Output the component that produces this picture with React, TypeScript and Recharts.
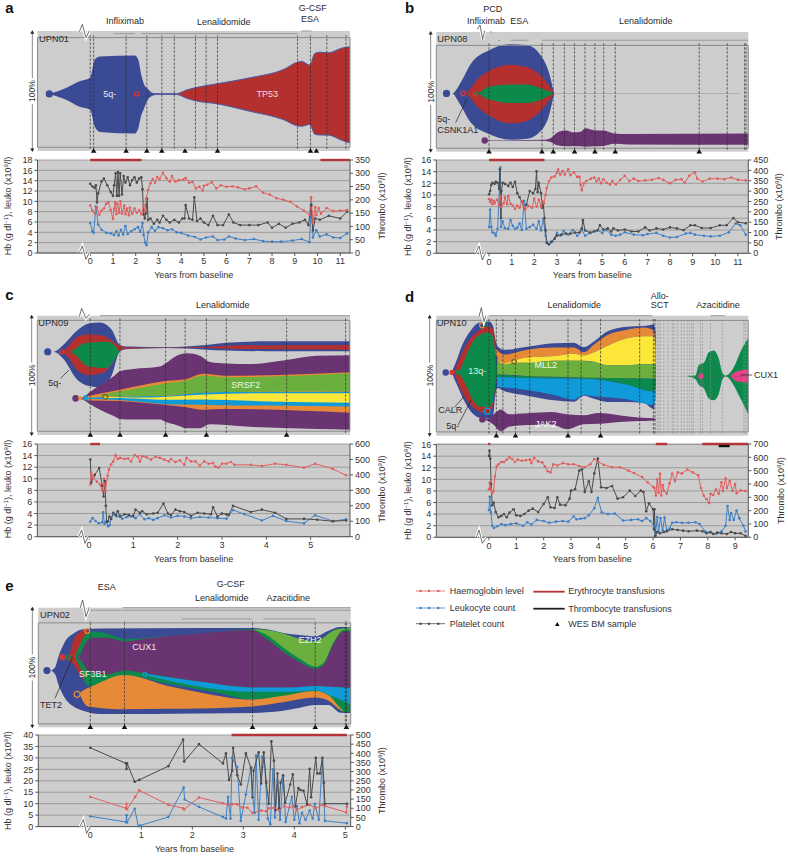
import React from "react";
import { ComposedChart, Area, Line, XAxis, YAxis, CartesianGrid } from "recharts";

const FONT = "'Liberation Sans', Arial, sans-serif";
const BLUE = "#3b4a94", RED = "#b3302f", GREEN = "#0c8a4b", PURPLE = "#6a3472", ORANGE = "#e78a38",
  LIME = "#6bb03f", YELLOW = "#fde63a", CYAN = "#0f9bd9", PINK = "#e6408a", GRAY = "#cdcdcd";
const C_HB = "#df5f5e", C_LEU = "#3f7fc4", C_PLT = "#4a4a4a", C_TX = "#b5343a";

// ---- Panel a, UPN01 ----
const a5q = [[-1.8,48.6,48.6],[-1.04,54.2,43],[-.53,59.7,37.5],[0,63.3,34.2],[.2,80,18.9],[.43,82.8,13.9],[1.96,83.6,12.5],[2.11,80,16.9],[2.26,64.7,30],[2.36,58,35],[2.55,53,43.9],[2.77,49.4,47.2],[3.07,48.7,48.4],[3.8,48.6,48.3]];
const aTP53 = [[2.77,48.7,48.4],[3.8,48.9,48.1],[4.24,52.2,44.7],[4.6,54.2,42.5],[5.56,57.8,39.7],[7.02,63.3,32.8],[8.49,70.8,25.3],[9.15,77.8,19.4],[9.3,78.3,19.2],[9.66,75,20.8],[9.88,85.6,11.9],[10.1,86.7,11.2],[10.47,86.1,11.1],[11.06,90.3,6.4],[11.35,91.4,4.4],[11.43,91.4,4.2]];
const aDashes = [0,.15,1.58,2.49,3.15,3.7,4.63,5.1,5.6,9.12,9.69,10.41,11.25];
const aSamples = [.15,1.58,2.49,3.15,4.17,5.6,9.69,9.95];
const aHb = [[0,9.2],[.1,8.2],[.2,7.7],[.3,8.8],[.4,7.4],[.5,8.2],[.6,8.6],[.7,9.5],[.8,9.8],[.9,8.3],[1,6.6],[1.05,8.5],[1.1,9.8],[1.15,7.5],[1.2,9.5],[1.27,7.8],[1.33,10],[1.4,7.6],[1.5,9.2],[1.55,7.5],[1.62,8.6],[1.7,7.3],[1.75,8.8],[1.85,7.6],[1.95,8.6],[2.05,7.8],[2.15,8.3],[2.25,7.5],[2.35,9.3],[2.4,8],[2.46,10.5],[2.55,12.2],[2.65,13.5],[2.75,14.3],[2.85,13.6],[2.95,14.7],[3.05,14.3],[3.2,15.5],[3.35,14.5],[3.5,13.8],[3.6,14.9],[3.75,13.8],[3.9,14.1],[4.1,14.2],[4.2,14.5],[4.35,13.6],[4.5,13.8],[4.65,12.5],[4.8,12.8],[4.95,12.1],[5,13],[5.15,13.2],[5.35,13.7],[5.55,12.5],[5.75,13.1],[6,12.8],[6.25,12.9],[6.5,12.7],[6.8,12.3],[7,12.5],[7.3,12.9],[7.6,11.7],[7.9,11.3],[8.2,10.6],[8.5,10.3],[8.8,9.9],[9.1,9],[9.4,8.2],[9.65,7.4],[9.72,10.8],[9.8,5.8],[9.9,8.9],[9.95,7.3],[10.05,8.7],[10.15,7.6],[10.4,8.7],[10.7,8.1],[11,8.2],[11.3,8.3]];
const aLeu = [[0,5.8],[.1,4.2],[.15,3.9],[.25,9],[.35,5.5],[.5,4.5],[.7,3.9],[.9,3.8],[1.05,3.5],[1.15,4.2],[1.25,3.4],[1.35,4.5],[1.45,3.6],[1.55,5.2],[1.65,3.7],[1.8,4.2],[1.95,4.6],[2.1,5],[2.2,4.1],[2.3,5.8],[2.35,3.5],[2.42,2],[2.48,1.5],[2.55,4],[2.7,5],[2.85,4.3],[3,5],[3.2,4.8],[3.4,4.4],[3.6,4.6],[3.8,4],[4,3.9],[4.3,3.4],[4.6,3.1],[4.85,2.6],[5.1,3],[5.4,3.2],[5.6,2.5],[5.9,2.6],[6.1,3.2],[6.4,2.8],[6.8,2.5],[7.2,2.7],[7.6,2.3],[8,2.2],[8.4,2.2],[8.9,2.4],[9.3,2.7],[9.65,2.1],[9.72,9.5],[9.8,3],[9.95,4.4],[10.1,3.2],[10.4,3.6],[10.7,3],[11,2.9],[11.3,3.8]];
const aPlt = [[0,260],[.1,250],[.2,245],[.25,255],[.3,190],[.35,225],[.5,270],[.6,280],[.75,255],[.9,230],[1,215],[1.05,255],[1.12,300],[1.17,215],[1.22,305],[1.27,215],[1.32,300],[1.4,220],[1.47,290],[1.55,265],[1.65,285],[1.75,255],[1.85,275],[1.95,285],[2.05,265],[2.15,280],[2.25,285],[2.3,240],[2.35,145],[2.4,130],[2.45,150],[2.5,205],[2.55,125],[2.65,130],[2.8,110],[2.95,125],[3.05,115],[3.2,140],[3.35,125],[3.5,115],[3.7,125],[3.9,115],[4.05,130],[4.15,130],[4.2,180],[4.35,130],[4.5,125],[4.58,210],[4.7,120],[4.85,130],[5,115],[5.2,105],[5.4,140],[5.6,105],[5.85,105],[6.1,145],[6.3,115],[6.6,105],[7,105],[7.4,105],[7.8,115],[8,95],[8.3,110],[8.6,95],[8.9,110],[9.2,115],[9.45,125],[9.6,105],[9.72,180],[9.8,85],[9.9,130],[10.1,125],[10.5,140],[11,130],[11.3,155]];

// ---- Panel b, UPN08 ----
const bBlue = [[-1.88,53.3,53.3],[-1.62,53.3,53.3],[-1.4,58.3,47.2],[-1.18,66.7,38.9],[-.81,81.9,25],[0,95.3,13.9],[.96,101,8.3],[1.69,100,9.2],[2.28,90.3,16.7],[2.65,73.6,31.9],[2.87,53.6,53]];
const bRed = [[-1.03,53.3,53.3],[-.81,58.3,48.6],[-.52,66.7,40.3],[0,75,31.9],[.96,81.1,24.2],[1.69,78.6,26.7],[2.28,70.8,36.1],[2.65,61.1,45.8],[2.87,53.6,53]];
const bGreen = [[-.44,53.3,53.3],[-.22,57.5,49.4],[0,59.7,47.5],[.96,61.9,43.9],[1.69,61.9,43.9],[2.28,58.3,47.2],[2.87,53.5,53.1]];
const bTrace = [[2.87,53.5,53.1],[11.1,53.5,53.1]];
const bPurple = [[-.19,7.7,7.3],[2.36,8.1,7.2],[2.72,9.7,6.1],[3.02,15.3,2.8],[3.39,17.2,1.9],[3.76,15.3,2.2],[4.05,16.1,1.8],[4.27,19.4,1.4],[4.64,17.5,1.8],[5.08,17.2,2.2],[5.52,14.4,4.2],[6.11,13.9,3.6],[11.46,14.4,3.3]];
const bDashes = [0,2.34,2.84,3.33,3.78,4.24,4.68,5.07,5.58,9.29,10.53,11.3,11.36];
const bSamples = [0,2.34,2.84,3.78,4.68,5.58,9.29];
const bHb = [[0,9.3],[.05,8.8],[.1,9.2],[.15,8.4],[.2,9],[.25,8.6],[.35,9.2],[.45,8.2],[.5,9.8],[.55,8],[.65,8.6],[.7,9.6],[.8,8.4],[.85,9.8],[.95,8.5],[1.05,8.2],[1.15,7.6],[1.25,8.2],[1.35,7.8],[1.45,8.9],[1.55,7.9],[1.6,7.5],[1.75,8.1],[1.9,7.8],[2,9.4],[2.1,8],[2.2,9.2],[2.3,8],[2.35,9],[2.42,8.6],[2.5,10],[2.55,11.2],[2.65,12.4],[2.75,13],[2.9,13.2],[3,13.8],[3.05,14.4],[3.15,13.5],[3.25,14.1],[3.35,13.5],[3.5,14.4],[3.6,13.4],[3.75,13.9],[3.9,13.1],[4,13.1],[4.05,11.7],[4.1,10.8],[4.2,12],[4.3,12.4],[4.5,12.8],[4.65,13],[4.75,12.3],[4.85,12.8],[4.95,12],[5.05,12.7],[5.2,12.1],[5.35,11.8],[5.45,12.4],[5.6,11.8],[5.8,12.6],[6,13.3],[6.2,12.4],[6.4,12.8],[6.6,12.4],[6.9,12.5],[7.2,12.6],[7.5,12.9],[7.7,12.6],[8,12],[8.25,12.6],[8.5,12.7],[8.65,12.1],[8.85,13.3],[9.1,13.9],[9.2,12.8],[9.45,12.3],[9.75,12.8],[10.1,12.8],[10.4,12.7],[10.7,13],[11,12.6],[11.35,12.5]];
const bLeu = [[0,4.5],[.05,7.5],[.1,4.5],[.15,3.6],[.25,3.4],[.3,3],[.38,4.2],[.5,14.7],[.53,4.5],[.6,5.5],[.7,4.3],[.85,4.2],[.95,5.7],[1.05,4.7],[1.15,4.2],[1.25,4.4],[1.35,5.1],[1.45,4],[1.55,9],[1.65,4.2],[1.8,4.5],[1.95,4.9],[2.1,4.2],[2.2,5.5],[2.3,3.9],[2.4,5.8],[2.5,3],[2.55,2],[2.65,1.5],[2.8,2],[3,3.5],[3.15,3],[3.3,3.8],[3.5,3.2],[3.7,4],[3.9,3],[4.1,4],[4.25,3],[4.5,3.5],[4.8,4],[5,3.5],[5.2,4],[5.4,3.2],[5.6,3],[5.8,3.2],[6,3.6],[6.4,3.2],[6.8,3.1],[7,3.3],[7.4,3.5],[7.7,3],[8,2.7],[8.3,2.8],[8.7,3.4],[8.9,3.5],[9.1,3.2],[9.5,3],[9.8,2.9],[10.2,3],[10.6,3.6],[10.9,5.1],[11.1,4.8],[11.35,3.2]];
const bPlt = [[0,285],[.05,300],[.1,330],[.15,340],[.25,335],[.3,345],[.38,340],[.45,310],[.48,405],[.5,230],[.53,170],[.55,300],[.6,340],[.7,335],[.85,325],[.95,340],[1.05,320],[1.15,345],[1.25,290],[1.35,270],[1.45,250],[1.55,220],[1.65,235],[1.8,300],[1.95,290],[2.05,310],[2.1,395],[2.15,295],[2.2,340],[2.3,290],[2.35,220],[2.4,240],[2.45,170],[2.5,110],[2.55,50],[2.65,45],[2.75,55],[2.9,70],[3,85],[3.2,90],[3.4,95],[3.6,95],[3.8,100],[4,100],[4.1,120],[4.15,160],[4.25,110],[4.45,100],[4.65,105],[4.8,110],[4.9,135],[5.05,115],[5.25,120],[5.4,105],[5.5,120],[5.7,110],[6,115],[6.3,105],[6.6,105],[6.9,125],[7.1,110],[7.4,120],[7.7,115],[8,125],[8.3,120],[8.6,112],[8.9,135],[9.1,135],[9.4,122],[9.8,122],[10.2,135],[10.5,135],[10.8,170],[11,150],[11.35,145]];

// ---- Panel c, UPN09 ----
const cBlue = [[-.93,71.7,71.7],[-.8,71.7,71.7],[-.58,77.8,65.3],[-.28,90.3,47.2],[0,97.2,40.8],[.25,98,39.7],[.51,91.7,50],[.7,77.8,72.2],[.89,76.4,74.2],[1.75,75.8,75],[2.65,77.8,73.6],[3.1,79.7,72.8],[4,81.1,72.2],[5.89,81.1,72.2]];
const cRed = [[-.62,71.7,71.7],[-.47,76.4,66.7],[-.28,84.7,55.6],[0,87.5,50.6],[.32,86.1,52.8],[.55,80.6,62.5],[.7,77.2,73.3],[.89,75.6,74.4],[1.75,75.3,75],[2.65,76.1,75],[3.1,77.2,74.4],[5.89,77.8,73.6]];
const cGreen = [[-.35,71.7,71.7],[-.24,76.4,66.1],[0,80,58.3],[.4,80.6,56.9],[.59,77.2,65.3],[.68,72,71.1]];
const cPurple = [[-.3,29.7,29.5],[-.13,30.6,28.3],[0,34.7,25],[.25,41.7,19.4],[.55,49.4,13.9],[.7,54.2,11.1],[1,56.1,10.6],[1.6,58.3,10.6],[1.75,61.7,8],[1.98,68.1,5.5],[2.2,70.3,2.8],[2.5,68.1,2.8],[2.73,62.5,6.4],[3.1,61.1,5.6],[3.63,60.6,4],[4.38,63.9,3],[5.14,68.1,2],[5.89,68.6,1.4]];
const cOrange = [[-.16,30.6,30],[0,31.9,27.8],[.7,37.5,27.2],[1.73,45.3,23.6],[2.2,47.2,21.7],[2.57,51.9,19.4],[3.1,50,20],[5.89,53.3,16.7]];
const cLime = [[.25,32.8,32],[.7,36.1,31.4],[1.73,43.1,31.9],[2.2,45.8,33.9],[2.57,50,34.5],[3.1,48.6,35.3],[5.89,52.2,36.1]];
const cCyan = [[-.13,30,29],[.7,31.1,28.1],[1.73,31.7,24.4],[2.2,33.6,24],[3.26,35.3,23.3],[4.1,35.3,23.3],[5.89,35.6,22.2]];
const cYellow = [[.32,30.8,30.3],[.7,30.6,30],[1.38,30.4,28.9],[1.73,31.1,28.3],[2.5,33,28.6],[4,34.2,26.9],[5.89,34.2,25.6]];
const cDashes = [.03,.7,1.73,2.17,2.65,3.1,4.46,5.79];
const cSamples = [.03,.7,1.73,2.65,4.46];
const cHb = [[.03,9],[.05,11.1],[.1,10.2],[.18,9.5],[.25,9],[.3,8],[.34,10],[.37,7.8],[.42,10.5],[.45,11.6],[.5,12.5],[.55,13],[.6,14.1],[.65,13.4],[.7,13.6],[.8,13.4],[.88,13.5],[.95,13],[1.03,14.1],[1.1,13.8],[1.15,13],[1.2,13.9],[1.3,13.7],[1.4,13.3],[1.5,13.8],[1.6,13.6],[1.7,13.3],[1.8,13],[1.85,13.4],[1.95,12.9],[2.05,13.2],[2.15,12.4],[2.2,13.6],[2.3,13],[2.4,13],[2.5,12.3],[2.6,13],[2.7,12.6],[2.8,12.7],[2.85,12.1],[2.92,11.9],[3,12.6],[3.1,12.6],[3.2,12.9],[3.28,12.4],[3.65,12.4],[3.9,12.2],[4.2,12.6],[4.45,12.4],[4.85,11.9],[5.1,12.6],[5.5,11.7],[5.8,10.6]];
const cLeu = [[.03,2.6],[.08,3.2],[.15,2.7],[.22,2.3],[.3,2.5],[.32,4.2],[.35,2.2],[.4,2.7],[.43,1.8],[.47,2],[.5,3.3],[.55,3.9],[.62,3.5],[.7,3.7],[.75,3.1],[.85,3.4],[.95,3.5],[1.05,3.2],[1.15,3.9],[1.25,3],[1.35,3.2],[1.45,2.9],[1.55,3.2],[1.7,3.7],[1.85,3.3],[2,3.6],[2.15,3.5],[2.3,3.2],[2.5,3.4],[2.7,3.3],[2.9,3.2],[3.1,3.1],[3.25,4.6],[3.5,3.9],[3.9,2.8],[4.15,3.6],[4.45,2.7],[4.85,2.3],[5.1,3.7],[5.5,2.7],[5.8,3]];
const cPlt = [[.03,500],[.05,350],[.13,400],[.23,445],[.3,330],[.33,260],[.36,360],[.38,200],[.4,95],[.43,100],[.46,130],[.5,115],[.55,155],[.6,140],[.65,165],[.7,130],[.8,145],[.9,140],[1,135],[1.05,175],[1.15,155],[1.2,165],[1.3,145],[1.45,150],[1.55,155],[1.68,215],[1.78,150],[1.85,140],[1.95,175],[2.05,165],[2.15,160],[2.3,135],[2.45,155],[2.6,150],[2.75,145],[2.8,190],[2.9,130],[3,150],[3.1,145],[3.15,140],[3.25,200],[3.65,160],[3.9,175],[4.2,155],[4.45,115],[4.85,115],[5.15,110],[5.5,100],[5.8,105]];

// ---- Panel d, UPN10 ----
const dBlue = [[-1.58,53.3,53.3],[-1.4,53.3,53.3],[-1.22,61.7,45],[-.97,78.3,31.1],[-.67,90.8,18.6],[-.37,97.8,13],[0,99,11.7],[.15,95,14],[.22,85,30],[.3,77.2,39.4],[.55,73.6,36.7],[1.4,76.4,32.5],[2.38,79.4,28.3],[3.1,80,27],[3.47,76.1,32.5],[3.84,81.1,29.7],[4.32,90,26.9],[5.05,94.4,26.9],[5.66,95,26],[6.03,96.4,20.6],[6.09,90,42]];
const dRed = [[-1.28,53.3,53.3],[-.97,71.4,35.3],[-.67,83.9,24.2],[-.37,90.8,18.6],[0,94.7,16.4],[.15,91.5,24.2],[.25,78,50]];
const dGreen = [[-1.1,53.3,53.3],[-.85,67.2,42.2],[-.61,79.7,29.4],[-.37,86.7,22.8],[0,89.4,22.2],[.16,83.9,28.3],[.28,58.9,47.2],[.43,51.5,49.2],[1.4,50,48.3],[3.84,48.6,47.2],[5.05,48.2,42.2],[6.03,47.8,36.1],[6.09,47.8,40]];
const dOrange = [[.24,74.7,70],[.55,69.4,60],[1.4,73.6,66.7],[2.38,75.6,68],[3.1,75.6,70],[3.47,71.4,68.6],[3.84,78.3,71.4],[4.32,86.7,77],[5.05,91.7,83.9],[5.66,93.6,85.8],[6.03,91,85.8],[6.09,70,68]];
const dYellow = [[.3,66,65],[.55,61.1,60.4],[.91,63.9,61.9],[1.4,66.7,61.9],[2.38,68,63.9],[3.1,70,63.9],[3.47,68.6,63.9],[3.84,71.4,62.9],[4.32,77,59.7],[5.05,83.9,59.7],[5.66,85.8,60.6],[6.03,85.8,60.6],[6.09,75,60]];
const dLime = [[.3,65.3,51.9],[.55,60.4,51.5],[.91,61.9,51],[1.4,61.9,50],[2.38,63.9,49.5],[3.1,63.9,49],[3.84,62.9,48.6],[4.32,59.7,48.4],[5.05,59.7,48.2],[5.66,60.6,48],[6.03,60.6,47.8],[6.09,58,48]];
const dCyan = [[.3,49.2,40.3],[1.4,48.3,37.5],[2.38,47.9,33],[3.1,47.7,28.9],[3.47,47.5,33],[3.84,47.2,31.9],[5.05,42.2,29.2],[6.03,36.1,24.2],[6.09,40,30]];
const dJak2 = [[-.24,11.2,11.2],[0,11.7,9.4],[.18,15.8,6.1],[.43,20,.6],[.73,15.8,4.7],[1.4,16.7,6.1],[2.28,17.8,6.7],[2.86,15.8,2.5],[3.47,15,6.9],[4.03,17,7.2],[4.75,15,8.9],[5.46,13,9.7],[6.03,12.2,10.3],[6.09,11.8,10.8]];
const dTrace = [[6.09,50.2,49.8],[7.25,50.2,49.8]];
const dRelapse = [[7.25,50.3,49.8],[7.55,50.5,47.2],[7.67,60,42.2],[7.86,61.9,38.9],[8.04,71.6,29.7],[8.22,73,28.3],[8.4,65.9,33.9],[8.53,53.3,46.7],[8.65,50.5,50],[8.71,51,49.4],[8.95,58,41.7],[9.2,72.2,29.7],[9.48,84.4,15.8]];
const dCux1 = [[8.83,50.3,49.8],[9.07,54.4,45.3],[9.48,56,44.4]];
const dStem = [[7.25,50.15,49.85],[9.48,50.15,49.85]];
const dDashes = [0,.27,.51,.97,1.49,2.89,3.37,4.08,5.51,6.01,6.07];
const dLateDashes = [6.15,6.21,6.27,6.39,6.54,6.7,6.76,6.88,7.03,7.13,7.25,7.33,7.41,7.47,7.73,7.8,8.1,8.53,9.32,9.38];
const dSamples = [.27,.97,2.89,4.08];
const dHb = [[0,8.3],[.03,9.5],[.07,8.2],[.12,7.6],[.17,8],[.22,10.5],[.28,12.3],[.35,12.6],[.45,13],[.55,13],[.65,13.4],[.75,13.8],[.85,13.5],[.95,13],[1.05,13.4],[1.2,13.2],[1.35,13.3],[1.5,13.4],[1.55,12.8],[1.65,13.7],[1.8,13.1],[1.95,12.9],[2.05,12.2],[2.15,11.4],[2.25,11.2],[2.35,12.6],[2.5,12.4],[2.7,12.8],[2.9,12.6],[3.1,12.6],[3.3,12.3],[3.5,12.1],[3.7,12.6],[3.85,13.5],[4,13],[4.2,12.5],[4.5,12.1],[4.8,12.1],[5.1,11.5],[5.3,11.1],[5.6,10.4],[5.8,9.5],[6,8.7],[6.05,8.5],[6.1,7.2],[6.15,10],[6.2,7.7],[6.25,11],[6.3,7.2],[6.35,9],[6.4,8],[6.5,7.5],[6.6,9.3],[6.7,11],[6.8,9.7],[6.9,11.2],[7.05,11],[7.25,11.7],[7.45,11.2],[7.65,10.7],[7.75,8.5],[7.85,7.2],[7.95,6.6],[8.05,5.9],[8.1,7.5],[8.2,7.3],[8.3,8.3],[8.4,7.5],[8.5,9.5],[8.55,8],[8.65,10.2],[8.7,8.5],[8.8,9.7],[8.9,8],[9,9.2],[9.05,7.6],[9.2,8.1],[9.38,8]];
const dLeu = [[0,4.7],[.03,7],[.07,4.3],[.12,2],[.18,1.6],[.3,1.9],[.45,2.3],[.6,2.1],[.8,2.3],[1,2.4],[1.25,2],[1.4,2.6],[1.55,2.2],[1.75,3],[2,2.8],[2.2,2.5],[2.45,2.7],[2.7,2.8],[2.9,2.7],[3.1,3.6],[3.2,3.1],[3.35,3.2],[3.5,3.3],[3.65,3.8],[3.85,5],[3.98,6.8],[4.12,4.3],[4.35,4],[4.6,4.1],[4.9,2.9],[5.2,3],[5.45,3.1],[5.6,2.8],[5.75,3.3],[5.9,2.8],[6.03,2],[6.08,.3],[6.15,3.5],[6.2,1],[6.27,3.3],[6.35,1.2],[6.42,3.4],[6.5,1.2],[6.6,1.5],[6.7,2.5],[6.85,2.6],[7.05,2.5],[7.3,2.5],[7.55,2.6],[7.7,2.3],[7.9,1],[8.1,.8],[8.3,.6],[8.5,1],[8.65,2],[8.72,5.4],[8.8,3],[8.85,4.2],[8.95,3],[9.05,4.6],[9.15,3.3],[9.3,2],[9.38,1]];
const dPlt = [[0,610],[.02,650],[.05,590],[.08,400],[.12,240],[.17,260],[.25,190],[.35,150],[.45,160],[.55,175],[.65,150],[.75,185],[.9,210],[1,165],[1.15,160],[1.3,175],[1.45,200],[1.6,215],[1.8,190],[2,250],[2.15,300],[2.25,225],[2.4,220],[2.5,300],[2.6,245],[2.8,240],[2.95,290],[3,350],[3.15,360],[3.3,500],[3.4,510],[3.5,340],[3.65,420],[3.75,340],[3.85,480],[3.98,590],[4.1,375],[4.3,370],[4.5,385],[4.7,290],[4.9,300],[5.15,350],[5.35,310],[5.55,350],[5.65,340],[5.75,195],[5.85,255],[6,210],[6.03,60],[6.05,210],[6.08,10],[6.15,40],[6.25,30],[6.4,40],[6.5,45],[6.7,60],[6.9,55],[7.1,50],[7.3,45],[7.6,50],[7.8,45],[7.95,30],[8.1,40],[8.2,25],[8.35,35],[8.5,30],[8.7,25],[8.85,40],[9,30],[9.2,30],[9.38,10]];

// ---- Panel e, UPN02 ----
const eBlue = [[-.85,52.8,52.8],[-.79,52.8,52.8],[-.69,56.1,49],[-.63,65.8,39.4],[-.5,81.1,25.6],[-.33,89.4,17.2],[-.14,93.6,13],[.19,94.4,9.7],[2.15,95,10.3],[3.2,95,10.8],[3.46,93.6,11.5],[3.78,90,13],[4.11,88,16],[4.41,86.7,18.6],[4.67,92.2,18.6],[4.9,95.8,11.1],[5.1,95.5,10.8]];
const eRed = [[-.55,66,65.5],[-.43,66.5,63],[-.33,83,58.9],[-.17,92,46],[-.04,94,42]];
const eGreen = [[-.3,66.7,64.4],[-.2,78.9,56.1],[-.07,89.4,38.3],[.06,91.7,37.2],[.32,89.4,43],[.68,84,48],[1.5,86.7,40],[2.48,90.8,31],[3.16,93.6,24],[3.46,93,25],[4.11,83.9,28],[4.41,81.7,30.5],[4.57,85.6,28],[4.76,92.5,20.5],[4.96,94.7,11.7],[5.1,95.3,11.7]];
const eOrange = [[-.2,31.1,28.3],[-.07,35,17.8],[.03,37.2,16.7],[.67,48.3,14.4],[1.5,37.8,15],[2.15,31.1,15.3],[3.16,24,17.2],[3.78,27.8,21.4],[4.41,32.5,26.1],[4.67,28.3,23],[4.9,15.8,13.9],[4.96,13,12.6]];
const ePurple = [[-.2,66.7,64.4],[-.06,82.5,53.3],[.06,85.3,50],[.32,85.3,49],[.68,81.6,52.8],[1.07,84.2,50],[2.15,89.4,41.7],[3.16,92.8,36.1],[3.46,83.9,35.8],[3.78,71.4,35.6],[4.11,61.1,36],[4.41,54.7,37.5],[4.57,58.3,37],[4.76,78.3,36.5],[4.96,91.4,36],[5.1,91.4,35.3]];
const eCyan = [[1.07,49.7,48.3],[2.15,41.7,36.7],[3.16,36.1,31.7],[3.92,36.1,31.7],[4.41,37.5,33.3],[4.76,36.5,27],[5.1,35.5,19.4]];
const eLime = [[3.2,93.6,93.3],[3.46,93,88],[3.78,89.4,75.6],[4.11,83.9,64.4],[4.41,81.7,56.7],[4.57,85.3,60.3],[4.76,92.2,79.7],[4.96,94.4,92.8],[5.1,95,93.6]];
const eDashes = [0,.67,3.18,4.41,5,5.02];
const eSamples = [0,.67,3.18,4.41,5.02];
const eHb = [[0,13],[.7,8],[.71,10],[.72,7.6],[.88,13],[.96,15.8],[1.53,9.5],[1.82,8],[1.84,7.5],[2.13,12.7],[2.6,10.2],[2.7,9.5],[2.78,9.8],[2.88,9.7],[2.98,8.3],[3.08,8.2],[3.18,6],[3.35,7],[3.45,6.7],[3.5,8],[3.6,8.2],[3.7,7],[3.8,9],[3.9,8.2],[3.98,9],[4.05,7.3],[4.15,8.5],[4.3,9.5],[4.42,8],[4.55,9.5],[4.6,9],[5.02,6.2],[5.03,8.7]];
const eLeu = [[0,4.5],[.7,2],[.71,5],[.72,1.8],[.87,7.8],[.94,.2],[.98,.5],[1.53,4.2],[1.83,17],[1.85,11.8],[2.13,8.6],[2.6,4.2],[2.66,3.5],[2.7,13],[2.75,3.5],[2.78,30],[2.88,26],[2.95,2.5],[3.05,14],[3.15,26],[3.18,14],[3.22,6],[3.25,31],[3.3,3],[3.37,30.5],[3.42,26],[3.48,3.5],[3.53,1],[3.58,25],[3.62,4],[3.67,20],[3.72,3],[3.78,22],[3.83,2],[3.95,13],[4,3],[4.05,9],[4.1,1.5],[4.15,6],[4.22,3],[4.3,7],[4.36,3.5],[4.4,10],[4.48,3],[4.55,29],[4.6,2.5],[5.03,1.5]];
const ePlt = [[0,430],[.7,345],[.71,315],[.72,345],[.87,245],[.96,255],[1.53,330],[1.82,475],[1.84,355],[2.13,450],[2.6,345],[2.66,400],[2.72,255],[2.78,305],[2.8,430],[2.88,280],[2.95,230],[3.05,400],[3.15,320],[3.18,160],[3.2,305],[3.3,405],[3.35,235],[3.4,405],[3.45,240],[3.5,125],[3.55,465],[3.6,360],[3.63,90],[3.67,290],[3.7,100],[3.73,240],[3.78,280],[3.82,130],[3.92,230],[3.97,285],[4.02,110],[4.08,210],[4.12,200],[4.18,195],[4.25,120],[4.3,315],[4.33,160],[4.42,375],[4.45,290],[4.5,290],[4.55,375],[4.58,240],[4.6,125],[5.03,125]];

const upTo = (n: number) => Array.from({ length: n + 1 }, (_, i) => i);
const rows = (r: number[][]) => r.map(([x, hi, lo]) => ({ x, range: [lo, hi] }));
const pts = (r: number[][]) => r.map(([x, y]) => ({ x, y }));

const PANELS: any[] = [
  { id: "a", ox: 0, oy: 0, rL: 37.5, rR: 350, fT: 31, fB: 151, lT: 160, lB: 253, xd: [-2.32, 11.43], xt: upTo(11),
    hbMax: 18, hbT: [0,2,4,6,8,10,12,14,16,18], pMax: 350, pT: [0,50,100,150,200,250,300,350],
    hb: aHb, leu: aLeu, plt: aPlt, dashes: aDashes, late: [], samples: aSamples,
    bands: [[a5q, BLUE], [aTP53, RED, "#4a5ca8"]],
    markers: [[-1.8,48.6,BLUE,3,1],[2.04,48.6,"#d8383a",2.2,0]],
    treat: [[1.03,1.96,103.6],[2.26,9.12,103.6],[9.3,9.74,106]],
    tx: [[0,2.26,18,C_TX],[10.13,11.43,18,C_TX]] },
  { id: "b", ox: 394, oy: 0, rL: 42.3, rR: 354.3, fT: 32, fB: 151.7, lT: 160, lB: 253.3, xd: [-2.33, 11.46], xt: upTo(11),
    hbMax: 16, hbT: [0,2,4,6,8,10,12,14,16], pMax: 450, pT: [0,50,100,150,200,250,300,350,400,450],
    hb: bHb, leu: bLeu, plt: bPlt, dashes: bDashes, late: [], samples: bSamples,
    bands: [[bBlue, BLUE], [bRed, RED], [bGreen, GREEN], [bTrace, "#8b4a6e"], [bPurple, PURPLE]],
    markers: [[-1.88,53.3,BLUE,3,1],[-1.15,53.3,"#d8383a",2.2,0],[-.6,53.3,"#d8383a",2,0],[-.55,53.3,GREEN,1.6,0],[-.19,7.5,PURPLE,2.6,1]],
    treat: [[.04,.13,113],[.4,.49,104.7],[.96,1.74,105],[2.33,11.46,105]],
    tx: [[0,2.45,16,C_TX]] },
  { id: "c", ox: 0, oy: 285, rL: 37.3, rR: 350, fT: 30.7, fB: 150, lT: 159, lB: 251.7, xd: [-1.165, 5.887], xt: upTo(5),
    hbMax: 16, hbT: [0,2,4,6,8,10,12,14,16], pMax: 600, pT: [0,100,200,300,400,500,600],
    hb: cHb, leu: cLeu, plt: cPlt, dashes: cDashes, late: [], samples: cSamples,
    bands: [[cBlue, BLUE], [cRed, RED], [cGreen, GREEN], [cPurple, PURPLE], [cOrange, ORANGE], [cLime, LIME], [cCyan, CYAN], [cYellow, YELLOW]],
    markers: [[-.93,71.7,BLUE,3,1],[-.62,71.7,"#d8383a",2,0],[-.35,71.7,GREEN,1.6,0],[-.3,29.7,PURPLE,2.8,1],[-.2,29.7,ORANGE,1.5,1],[-.08,30,CYAN,2,1],[.37,31,"#7a6a20",2.4,0]],
    treat: [[.25,5.89,104.2]],
    tx: [[.03,.25,16,C_TX]] },
  { id: "d", ox: 394, oy: 285, rL: 42.3, rR: 354.3, fT: 30.7, fB: 150.7, lT: 159, lB: 252.3, xd: [-1.924, 9.477], xt: upTo(9),
    hbMax: 16, hbT: [0,2,4,6,8,10,12,14,16], pMax: 700, pT: [0,100,200,300,400,500,600,700],
    hb: dHb, leu: dLeu, plt: dPlt, dashes: dDashes, late: dLateDashes, samples: dSamples,
    bands: [[dBlue, BLUE], [dRed, RED], [dGreen, GREEN], [dOrange, ORANGE], [dYellow, YELLOW], [dLime, LIME], [dCyan, CYAN], [dJak2, PURPLE], [dTrace, "#9aa59a"], [dRelapse, GREEN], [dCux1, PINK], [dStem, "#555"]],
    markers: [[-1.58,53.3,BLUE,2.6,1],[-1.35,53.3,"#d8383a",2,1],[-1.15,53.3,GREEN,1.6,1],[-.24,11.2,PURPLE,2.6,1],[-.25,95.6,ORANGE,2.5,0],[-.12,96.4,GREEN,2,0],[-.06,18.6,CYAN,3,0],[.92,63,"#7a6a20",2.2,0],[7.75,50,PINK,2,1]],
    treat: [[0,5.97,104.2],[8.1,8.62,104.2]],
    tx: [[-.03,.05,16.1,C_TX],[6.1,6.52,16.1,C_TX],[7.8,9.48,16.1,C_TX],[8.4,8.8,15.75,"#111"]] },
  { id: "e", ox: 0, oy: 570, rL: 38.3, rR: 350.7, fT: 37.7, fB: 157.3, lT: 164.7, lB: 256.3, xd: [-1.02, 5.105], xt: upTo(5),
    hbMax: 40, hbT: [0,5,10,15,20,25,30,35,40], pMax: 500, pT: [0,50,100,150,200,250,300,350,400,450,500],
    hb: eHb, leu: eLeu, plt: ePlt, dashes: eDashes, late: [], samples: eSamples,
    bands: [[eBlue, BLUE], [eRed, RED], [eGreen, GREEN], [eOrange, ORANGE], [ePurple, PURPLE], [eCyan, CYAN], [eLime, LIME]],
    markers: [[-.85,52.8,BLUE,3,1],[-.55,66,"#d8383a",2.4,1],[-.43,66,GREEN,2,0],[-.2,66,PURPLE,2,0],[-.26,29.2,ORANGE,3,0],[1.07,49,CYAN,2,0],[-.06,92,ORANGE,2.4,0]],
    treat: [[0,.61,112.5],[.63,5.1,115],[.63,5.1,112.5],[1.79,3.16,103.9],[3.39,4.41,103.9]],
    tx: [[2.77,5.03,40,C_TX]] },
];

const tri = (p: any) => (
  <path key={p.index} d={`M${p.cx} ${p.cy - 2.8}L${p.cx + 2.8} ${p.cy + 1.8}L${p.cx - 2.8} ${p.cy + 1.8}Z`} fill="#111" />
);

function Fish({ p }: { p: any }) {
  const W = 394;
  const frame = [[p.xd[0],0],[p.xd[1],0],[p.xd[1],100],[p.xd[0],100],[p.xd[0],0]];
  return (
    <div style={{ position: "absolute", left: p.ox, top: p.oy }}>
      <ComposedChart width={W} height={p.fB + 10} margin={{ top: p.fT, right: W - p.rR, bottom: 10, left: p.rL }}>
        <CartesianGrid fill={GRAY} horizontal={false} vertical={false} />
        <XAxis hide type="number" dataKey="x" domain={p.xd} />
        <YAxis hide type="number" domain={[0, 100]} />
        <Line data={pts(frame)} dataKey="y" stroke="#8a8a8a" strokeWidth={1} dot={false} activeDot={false} isAnimationActive={false} />
        {p.bands.map(([b, col, edge]: any, i: number) => (
          <Area key={"b" + i} data={rows(b)} dataKey="range" type="monotone" fill={col} fillOpacity={1}
            stroke={edge || "none"} strokeWidth={edge ? 1 : 0} dot={false} activeDot={false} isAnimationActive={false} />
        ))}
        {p.dashes.map((x: number, i: number) => (
          <Line key={"d" + i} data={pts([[x,-1.5],[x,102]])} dataKey="y" stroke="#2b2b2b" strokeWidth={0.7} strokeDasharray="2.5 1.5" dot={false} activeDot={false} isAnimationActive={false} />
        ))}
        {p.late.map((x: number, i: number) => (
          <Line key={"l" + i} data={pts([[x,-1.5],[x,100]])} dataKey="y" stroke="#8c8c8c" strokeWidth={0.6} strokeDasharray="2 1.5" dot={false} activeDot={false} isAnimationActive={false} />
        ))}
        {p.treat.map(([a, b, lv]: number[], i: number) => (
          <Line key={"t" + i} data={pts([[a,lv],[b,lv]])} dataKey="y" stroke="#999" strokeWidth={1} dot={false} activeDot={false} isAnimationActive={false} />
        ))}
        {p.markers.map(([x, y, col, r, solid]: any[], i: number) => (
          <Line key={"m" + i} data={pts([[x,y]])} dataKey="y" stroke="none" activeDot={false} isAnimationActive={false}
            dot={(d: any) => <circle key={d.index} cx={d.cx} cy={d.cy} r={r} fill={solid ? col : "none"} stroke={col} strokeWidth={1.2} />} />
        ))}
        <Line data={pts(p.samples.map((x: number) => [x, -3.4]))} dataKey="y" stroke="none" dot={tri} activeDot={false} isAnimationActive={false} />
      </ComposedChart>
    </div>
  );
}

function Blood({ p }: { p: any }) {
  const W = 394, top = 8, axis = 34, h = p.lB - p.lT;
  const tick = { fontSize: 9, fill: "#333", fontFamily: FONT };
  const series: any[] = [[p.leu, "L", C_LEU], [p.plt, "R", C_PLT], [p.hb, "L", C_HB]];
  return (
    <div style={{ position: "absolute", left: p.ox, top: p.oy + p.lT - top }}>
      <ComposedChart width={W} height={h + top + axis} margin={{ top, right: W - p.rR - 26, bottom: 0, left: p.rL - 22 }}>
        <CartesianGrid yAxisId="L" fill={GRAY} vertical={false} stroke="#8f8f8f" strokeWidth={0.8} />
        <XAxis type="number" dataKey="x" domain={p.xd} ticks={p.xt} interval={0} height={axis} tick={tick} tickSize={3} tickMargin={2}
          stroke="#555" label={{ value: "Years from baseline", position: "insideBottom", offset: 9, fontSize: 9, fill: "#333", fontFamily: FONT }} />
        <YAxis yAxisId="L" type="number" width={22} domain={[0, p.hbMax]} ticks={p.hbT} interval={0} tick={tick} tickSize={3} tickMargin={2} stroke="#555" />
        <YAxis yAxisId="R" type="number" orientation="right" width={26} domain={[0, p.pMax]} ticks={p.pT} interval={0} tick={tick} tickSize={3} tickMargin={2} stroke="#555" />
        {series.map(([d, ax, col]: any[], i: number) => (
          <Line key={i} data={pts(d)} dataKey="y" yAxisId={ax} stroke={col} strokeWidth={1} activeDot={false} isAnimationActive={false}
            dot={{ r: 1.3, fill: col, stroke: "none" }} />
        ))}
        {p.tx.map(([a, b, lv, col]: any[], i: number) => (
          <Line key={"tx" + i} data={pts([[a,lv],[b,lv]])} dataKey="y" yAxisId="L" stroke={col} strokeWidth={2.4} dot={false} activeDot={false} isAnimationActive={false} />
        ))}
      </ComposedChart>
    </div>
  );
}

// Zoomed-reading helper: annotations were read on a 3x view of each quadrant.
function Label({ o, x, y, t, c = "#2a2a2a", a = "start", s = 9, w = 400 }: any) {
  return <text x={o[0] + x / 3} y={o[1] + y / 3} fill={c} fontSize={s} fontWeight={w} textAnchor={a} fontFamily={FONT}>{t}</text>;
}
function Lead({ o, p }: any) {
  return <polyline points={p.map(([x, y]: number[]) => `${o[0] + x / 3},${o[1] + y / 3}`).join(" ")} fill="none" stroke="#222" strokeWidth={0.7} />;
}
function Squiggle({ o, p }: any) {
  const s = p.map(([x, y]: number[]) => `${o[0] + x / 3},${o[1] + y / 3}`).join(" ");
  return <g><polyline points={s} fill="none" stroke="#fff" strokeWidth={3} /><polyline points={s} fill="none" stroke="#333" strokeWidth={0.7} /></g>;
}
function Hundred({ o, x, top, bot }: any) {
  const X = o[0] + x / 3, T = o[1] + top / 3, B = o[1] + bot / 3, M = (T + B) / 2;
  return (
    <g>
      <line x1={X} x2={X} y1={T} y2={M - 13} stroke="#555" strokeWidth={0.7} />
      <line x1={X} x2={X} y1={M + 13} y2={B} stroke="#555" strokeWidth={0.7} />
      <path d={`M${X} ${T - 1}l2 3.5h-4z`} fill="#222" />
      <path d={`M${X} ${B + 1}l2 -3.5h-4z`} fill="#222" />
      <text transform={`translate(${X + 3},${M}) rotate(-90)`} textAnchor="middle" fontSize={8.5} fill="#333" fontFamily={FONT}>100%</text>
    </g>
  );
}
function Titles({ o, l, r, y }: any) {
  const sup = { fontSize: 6 };
  return (
    <g fontSize={9} fill="#333" fontFamily={FONT} textAnchor="middle">
      <text transform={`translate(${o[0] + l / 3},${o[1] + y / 3}) rotate(-90)`}>
        Hb (g dl<tspan dy={-3} {...sup}>−1</tspan><tspan dy={3}>), leuko (x10</tspan><tspan dy={-3} {...sup}>9</tspan><tspan dy={3}>/l)</tspan>
      </text>
      <text transform={`translate(${o[0] + r / 3},${o[1] + y / 3}) rotate(-90)`}>
        Thrombo (x10<tspan dy={-3} {...sup}>9</tspan><tspan dy={3}>/l)</tspan>
      </text>
    </g>
  );
}

function Overlay() {
  const A = [0, 0], B = [394, 0], C = [0, 285], D = [394, 285], E = [0, 570];
  const legendLine = (y: number, col: string) => (
    <g>
      <line x1={416} x2={445} y1={y} y2={y} stroke={col} strokeWidth={0.8} />
      {[420.6, 429, 438.3].map((x) => <circle key={x} cx={x} cy={y} r={1.2} fill={col} />)}
    </g>
  );
  return (
    <svg width={788} height={856} style={{ position: "absolute", left: 0, top: 0, pointerEvents: "none" }}>
      {/* panel letters */}
      <Label o={A} x={16} y={40} t="a" s={15} w={700} c="#111" />
      <Label o={B} x={33} y={40} t="b" s={15} w={700} c="#111" />
      <Label o={C} x={16} y={45} t="c" s={15} w={700} c="#111" />
      <Label o={D} x={33} y={50} t="d" s={15} w={700} c="#111" />
      <Label o={E} x={16} y={62} t="e" s={15} w={700} c="#111" />

      {/* a */}
      <Squiggle o={A} p={[[238,95],[247,73],[258,113],[268,92]]} />
      <Squiggle o={A} p={[[238,757],[247,738],[258,778],[268,757]]} />
      <Hundred o={A} x={97} top={94} bot={453} />
      <Titles o={A} l={33} r={1155} y={618} />
      <Label o={A} x={117} y={127} t="UPN01" s={9.3} />
      <Label o={A} x={375} y={72} t="Infliximab" a="middle" />
      <Label o={A} x={671} y={74} t="Lenalidomide" a="middle" />
      <Label o={A} x={938} y={34} t="G-CSF" a="middle" />
      <Label o={A} x={930} y={66} t="ESA" a="middle" />
      <Label o={A} x={329} y={291} t="5q-" a="middle" c="#e8e8f4" />
      <Label o={A} x={802} y={291} t="TP53" a="middle" c="#f5dede" />

      {/* b */}
      <Squiggle o={B} p={[[250,88],[258,75],[266,118],[272,92]]} />
      <Squiggle o={B} p={[[245,760],[255,738],[265,780],[275,757]]} />
      <Hundred o={B} x={110} top={96} bot={455} />
      <Titles o={B} l={50} r={1165} y={620} />
      <Label o={B} x={130} y={127} t="UPN08" s={9.3} />
      <Label o={B} x={296} y={37} t="PCD" a="middle" />
      <Label o={B} x={276} y={71} t="Infliximab" a="middle" />
      <Label o={B} x={376} y={71} t="ESA" a="middle" />
      <Label o={B} x={755} y={72} t="Lenalidomide" a="middle" />
      <Label o={B} x={130} y={367} t="5q-" />
      <Label o={B} x={130} y={398} t="CSNK1A1" />
      <Lead o={B} p={[[185,368],[218,298]]} />

      {/* c */}
      <Squiggle o={C} p={[[238,95],[245,70],[258,100],[268,88]]} />
      <Squiggle o={C} p={[[236,755],[245,735],[255,775],[265,755]]} />
      <Hundred o={C} x={95} top={92} bot={450} />
      <Titles o={C} l={33} r={1155} y={612} />
      <Label o={C} x={115} y={124} t="UPN09" s={9.3} />
      <Label o={C} x={668} y={69} t="Lenalidomide" a="middle" />
      <Label o={C} x={145} y={302} t="5q-" />
      <Lead o={C} p={[[182,280],[207,255]]} />
      <Label o={C} x={737} y={310} t="SRSF2" a="middle" c="#eef6e0" />

      {/* d */}
      <Squiggle o={D} p={[[255,95],[262,68],[270,110],[276,92]]} />
      <Squiggle o={D} p={[[247,757],[255,735],[265,775],[278,757]]} />
      <Hundred o={D} x={107} top={92} bot={452} />
      <Titles o={D} l={50} r={1170} y={617} />
      <Label o={D} x={128} y={122} t="UPN10" s={9.3} />
      <Label o={D} x={541} y={68} t="Lenalidomide" a="middle" />
      <Label o={D} x={797} y={42} t="Allo-" a="middle" />
      <Label o={D} x={797} y={69} t="SCT" a="middle" />
      <Label o={D} x={972} y={69} t="Azacitidine" a="middle" />
      <Label o={D} x={250} y={266} t="13q-" a="middle" c="#dff3e6" />
      <Label o={D} x={455} y={250} t="MLL2" a="middle" c="#f2f8e6" />
      <Label o={D} x={455} y={426} t="JAK2" a="middle" c="#ffffff" />
      <Label o={D} x={133} y={383} t="CALR" />
      <Label o={D} x={157} y={433} t="5q-" />
      <Lead o={D} p={[[180,368],[210,335]]} />
      <Lead o={D} p={[[192,420],[232,345]]} />
      <Lead o={D} p={[[1040,270],[1075,270]]} />
      <Label o={D} x={1080} y={278} t="CUX1" />

      {/* e */}
      <Squiggle o={E} p={[[240,115],[248,90],[258,140],[268,112]]} />
      <Squiggle o={E} p={[[240,770],[250,748],[260,790],[270,770]]} />
      <Hundred o={E} x={97} top={113} bot={472} />
      <Titles o={E} l={33} r={1155} y={632} />
      <Label o={E} x={120} y={144} t="UPN02" s={9.3} />
      <Label o={E} x={320} y={60} t="ESA" a="middle" />
      <Label o={E} x={692} y={50} t="G-CSF" a="middle" />
      <Label o={E} x={665} y={93} t="Lenalidomide" a="middle" />
      <Label o={E} x={865} y={93} t="Azacitidine" a="middle" />
      <Label o={E} x={433} y={240} t="CUX1" a="middle" c="#efe4f2" />
      <Label o={E} x={930} y={220} t="EZH2" a="middle" c="#f2f8e6" />
      <Label o={E} x={278} y={321} t="SF3B1" a="middle" c="#e5f5ea" />
      <Label o={E} x={120} y={413} t="TET2" />
      <Lead o={E} p={[[165,385],[218,260]]} />

      {/* legend */}
      {legendLine(591, C_HB)}
      {legendLine(608, C_LEU)}
      {legendLine(623.7, C_PLT)}
      <text x={449.7} y={594} fontSize={9} fill="#333" fontFamily={FONT}>Haemoglobin level</text>
      <text x={449.7} y={610.5} fontSize={9} fill="#333" fontFamily={FONT}>Leukocyte count</text>
      <text x={449.7} y={627} fontSize={9} fill="#333" fontFamily={FONT}>Platelet count</text>
      <line x1={533.3} x2={564.7} y1={591.7} y2={591.7} stroke={C_TX} strokeWidth={1.8} />
      <line x1={533.3} x2={564.7} y1={608.7} y2={608.7} stroke="#222" strokeWidth={1.8} />
      <path d="M557.3 622l2.3 4h-4.6z" fill="#111" />
      <text x={568.3} y={594} fontSize={9} fill="#333" fontFamily={FONT}>Erythrocyte transfusions</text>
      <text x={568.3} y={612} fontSize={9} fill="#333" fontFamily={FONT}>Thrombocyte transfusions</text>
      <text x={568.3} y={627} fontSize={9} fill="#333" fontFamily={FONT}>WES BM sample</text>
    </svg>
  );
}

export default function App() {
  return (
    <div style={{ position: "absolute", left: 0, top: 0, width: 788, height: 856, background: "#fff", overflow: "hidden" }}>
      {PANELS.map((p) => (
        <React.Fragment key={p.id}>
          <Fish p={p} />
          <Blood p={p} />
        </React.Fragment>
      ))}
      <Overlay />
    </div>
  );
}
